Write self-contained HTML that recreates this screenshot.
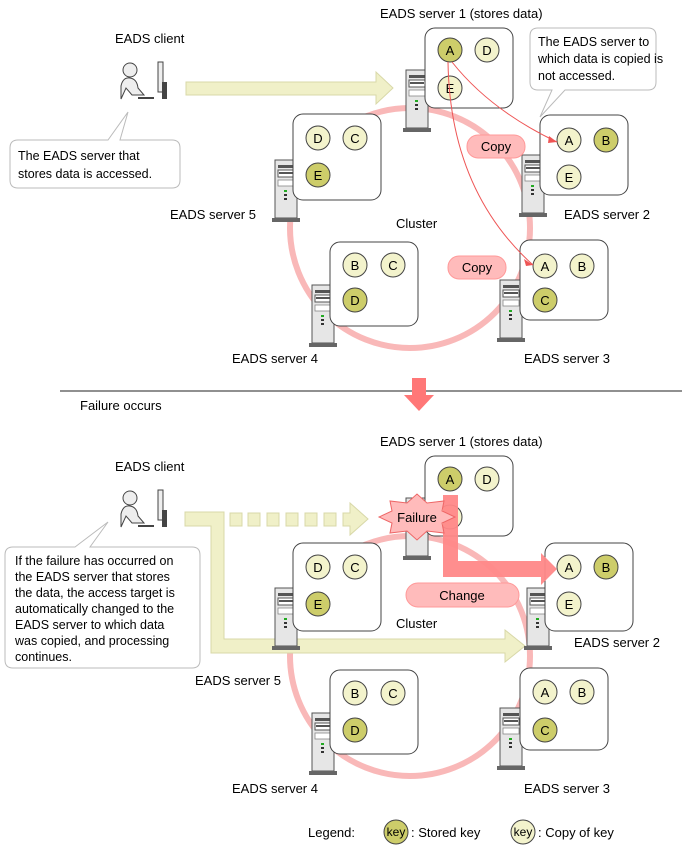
<!DOCTYPE html>
<html><head><meta charset="utf-8"><style>
html,body{margin:0;padding:0;background:#fff}
svg{display:block;font-family:"Liberation Sans",sans-serif}
</style></head><body>
<svg width="687" height="847" viewBox="0 0 687 847" xmlns="http://www.w3.org/2000/svg">
<defs>
<g id="tower">
 <rect x="0" y="0" width="22" height="58" fill="#e6e6e6" stroke="#555" stroke-width="1"/>
 <rect x="3" y="5" width="16" height="3" fill="#555"/>
 <rect x="3" y="10" width="16" height="7" fill="#fff" stroke="#555" stroke-width="1"/>
 <rect x="4" y="12" width="14" height="2" fill="#555"/>
 <rect x="3" y="20" width="16" height="6" fill="#fff" stroke="#888" stroke-width="0.8"/>
 <rect x="9" y="30" width="3" height="2" fill="#2a2"/>
 <rect x="9" y="34" width="3" height="2" fill="#333"/>
 <rect x="9" y="38" width="3" height="2" fill="#333"/>
 <rect x="-3" y="58" width="28" height="4" fill="#666"/>
</g>
<g id="client">
 <circle cx="12" cy="8" r="7" fill="#eee" stroke="#444"/>
 <path d="M3 37 L3 24 Q5 15 12 16 Q19 17 20 26 L26 33 L14 33 L8 26 Z" fill="#eee" stroke="#444"/>
 <rect x="40" y="0" width="5" height="30" fill="#eee" stroke="#444"/>
 <rect x="44" y="20" width="5" height="17" fill="#444"/>
 <rect x="20" y="35" width="16" height="2" fill="#444"/>
</g>
</defs>

<!-- ===== TOP ===== -->
<circle cx="410" cy="228" r="120" fill="none" stroke="#f9b8b8" stroke-width="6"/>
<text x="380" y="18" font-size="13">EADS server 1 (stores data)</text>
<text x="115" y="43" font-size="13">EADS client</text>
<use href="#client" x="118" y="62"/>
<polygon points="186,82 376,82 376,72 393,88 376,104 376,95 186,95" fill="#f0f0c8" stroke="#d8d8a8"/>

<path d="M18 140 L108 140 L128 112 L120 140 L172 140 Q180 140 180 148 L180 180 Q180 188 172 188 L18 188 Q10 188 10 180 L10 148 Q10 140 18 140 Z" fill="#fff" stroke="#bbb"/>
<text x="18" y="160" font-size="12.5">The EADS server that</text>
<text x="18" y="178" font-size="12.5">stores data is accessed.</text>

<path d="M538 28 L648 28 Q656 28 656 36 L656 82 Q656 90 648 90 L565 90 L540 117 L552 90 L538 90 Q530 90 530 82 L530 36 Q530 28 538 28 Z" fill="#fff" stroke="#bbb"/>
<text x="538" y="46" font-size="12.5">The EADS server to</text>
<text x="538" y="63" font-size="12.5">which data is copied is</text>
<text x="538" y="80" font-size="12.5">not accessed.</text>

<use href="#tower" x="406" y="70"/>
<rect x="425" y="28" width="88" height="80" rx="10" fill="#fff" stroke="#444"/>
<circle cx="450" cy="50" r="12" fill="#cdcd6a" stroke="#444"/><text x="450" y="55" font-size="13" text-anchor="middle">A</text>
<circle cx="487" cy="50" r="12" fill="#f3f3cc" stroke="#444"/><text x="487" y="55" font-size="13" text-anchor="middle">D</text>
<circle cx="450" cy="88" r="12" fill="#f3f3cc" stroke="#444"/><text x="450" y="93" font-size="13" text-anchor="middle">E</text>

<use href="#tower" x="522" y="155"/>
<rect x="540" y="115" width="88" height="80" rx="10" fill="#fff" stroke="#444"/>
<circle cx="569" cy="140" r="12" fill="#f3f3cc" stroke="#444"/><text x="569" y="145" font-size="13" text-anchor="middle">A</text>
<circle cx="606" cy="140" r="12" fill="#cdcd6a" stroke="#444"/><text x="606" y="145" font-size="13" text-anchor="middle">B</text>
<circle cx="569" cy="177" r="12" fill="#f3f3cc" stroke="#444"/><text x="569" y="182" font-size="13" text-anchor="middle">E</text>
<text x="564" y="219" font-size="13">EADS server 2</text>

<use href="#tower" x="500" y="280"/>
<rect x="520" y="240" width="88" height="80" rx="10" fill="#fff" stroke="#444"/>
<circle cx="545" cy="266" r="12" fill="#f3f3cc" stroke="#444"/><text x="545" y="271" font-size="13" text-anchor="middle">A</text>
<circle cx="582" cy="266" r="12" fill="#f3f3cc" stroke="#444"/><text x="582" y="271" font-size="13" text-anchor="middle">B</text>
<circle cx="545" cy="300" r="12" fill="#cdcd6a" stroke="#444"/><text x="545" y="305" font-size="13" text-anchor="middle">C</text>
<text x="524" y="363" font-size="13">EADS server 3</text>

<use href="#tower" x="312" y="285"/>
<rect x="330" y="242" width="88" height="84" rx="10" fill="#fff" stroke="#444"/>
<circle cx="355" cy="265" r="12" fill="#f3f3cc" stroke="#444"/><text x="355" y="270" font-size="13" text-anchor="middle">B</text>
<circle cx="393" cy="265" r="12" fill="#f3f3cc" stroke="#444"/><text x="393" y="270" font-size="13" text-anchor="middle">C</text>
<circle cx="355" cy="300" r="12" fill="#cdcd6a" stroke="#444"/><text x="355" y="305" font-size="13" text-anchor="middle">D</text>
<text x="232" y="363" font-size="13">EADS server 4</text>

<use href="#tower" x="275" y="160"/>
<rect x="293" y="114" width="88" height="86" rx="10" fill="#fff" stroke="#444"/>
<circle cx="318" cy="138" r="12" fill="#f3f3cc" stroke="#444"/><text x="318" y="143" font-size="13" text-anchor="middle">D</text>
<circle cx="355" cy="138" r="12" fill="#f3f3cc" stroke="#444"/><text x="355" y="143" font-size="13" text-anchor="middle">C</text>
<circle cx="318" cy="175" r="12" fill="#cdcd6a" stroke="#444"/><text x="318" y="180" font-size="13" text-anchor="middle">E</text>
<text x="170" y="219" font-size="13">EADS server 5</text>
<text x="396" y="228" font-size="13">Cluster</text>

<path d="M452 62 Q490 110 557 142" fill="none" stroke="#e55" stroke-width="1"/>
<polygon points="557,142 549,136 548,143" fill="#e55"/>
<path d="M448 62 Q450 190 533 265" fill="none" stroke="#e55" stroke-width="1"/>
<polygon points="533,265 524,259 526,266" fill="#e55"/>
<rect x="467" y="135" width="58" height="23" rx="11" fill="#fbb" stroke="#f99"/>
<text x="496" y="151" font-size="13" text-anchor="middle">Copy</text>
<rect x="448" y="256" width="58" height="23" rx="11" fill="#fbb" stroke="#f99"/>
<text x="477" y="272" font-size="13" text-anchor="middle">Copy</text>

<line x1="60" y1="391" x2="682" y2="391" stroke="#222" stroke-width="1"/>
<text x="80" y="410" font-size="13">Failure occurs</text>
<polygon points="412,378 426,378 426,395 434,395 419,411 404,395 412,395" fill="#f77"/>

<!-- ===== BOTTOM ===== -->
<circle cx="410" cy="656" r="120" fill="none" stroke="#f9b8b8" stroke-width="6"/>
<text x="380" y="446" font-size="13">EADS server 1 (stores data)</text>
<text x="115" y="471" font-size="13">EADS client</text>
<use href="#client" x="118" y="490"/>

<path d="M13 547 L75 547 L108 522 L90 547 L192 547 Q200 547 200 555 L200 660 Q200 668 192 668 L13 668 Q5 668 5 660 L5 555 Q5 547 13 547 Z" fill="#fff" stroke="#bbb"/>
<text font-size="12.5">
<tspan x="15" y="565">If the failure has occurred on</tspan>
<tspan x="15" y="581">the EADS server that stores</tspan>
<tspan x="15" y="597">the data, the access target is</tspan>
<tspan x="15" y="613">automatically changed to the</tspan>
<tspan x="15" y="629">EADS server to which data</tspan>
<tspan x="15" y="645">was copied, and processing</tspan>
<tspan x="15" y="661">continues.</tspan>
</text>

<polygon points="185,512 224,512 224,639 505,639 505,630 525,646 505,662 505,653 211,653 211,526 185,526" fill="#f0f0c8" stroke="#d8d8a8"/>
<g fill="#f0f0c8" stroke="#d8d8a8">
<rect x="230" y="513" width="12" height="13"/><rect x="248" y="513" width="12" height="13"/>
<rect x="267" y="513" width="12" height="13"/><rect x="286" y="513" width="12" height="13"/>
<rect x="305" y="513" width="12" height="13"/><rect x="324" y="513" width="12" height="13"/>
<polygon points="343,513 350,513 350,503 368,519 350,535 350,526 343,526"/>
</g>

<use href="#tower" x="406" y="498"/>
<rect x="425" y="456" width="88" height="80" rx="10" fill="#fff" stroke="#444"/>
<circle cx="450" cy="479" r="12" fill="#cdcd6a" stroke="#444"/><text x="450" y="484" font-size="13" text-anchor="middle">A</text>
<circle cx="487" cy="479" r="12" fill="#f3f3cc" stroke="#444"/><text x="487" y="484" font-size="13" text-anchor="middle">D</text>
<circle cx="450" cy="517" r="12" fill="#f3f3cc" stroke="#444"/>

<use href="#tower" x="527" y="588"/>
<rect x="545" y="543" width="88" height="88" rx="10" fill="#fff" stroke="#444"/>
<circle cx="569" cy="567" r="12" fill="#f3f3cc" stroke="#444"/><text x="569" y="572" font-size="13" text-anchor="middle">A</text>
<circle cx="606" cy="567" r="12" fill="#cdcd6a" stroke="#444"/><text x="606" y="572" font-size="13" text-anchor="middle">B</text>
<circle cx="569" cy="604" r="12" fill="#f3f3cc" stroke="#444"/><text x="569" y="609" font-size="13" text-anchor="middle">E</text>
<text x="574" y="647" font-size="13">EADS server 2</text>

<polygon points="443,495 458,495 458,561 541,561 541,553 557,569 541,585 541,577 443,577" fill="#f88" opacity="0.95"/>
<rect x="406" y="583" width="113" height="24" rx="12" fill="#fbb" stroke="#f99"/>
<text x="462" y="600" font-size="13" text-anchor="middle">Change</text>
<polygon points="455,517 442,523 444,533 427,531 417,540 407,531 390,533 392,523 379,517 392,511 390,501 407,503 417,494 427,503 444,501 442,511" fill="#fbb" stroke="#e66"/>
<text x="417" y="522" font-size="13" text-anchor="middle">Failure</text>
<text x="396" y="628" font-size="13">Cluster</text>

<use href="#tower" x="500" y="708"/>
<rect x="520" y="668" width="88" height="82" rx="10" fill="#fff" stroke="#444"/>
<circle cx="545" cy="692" r="12" fill="#f3f3cc" stroke="#444"/><text x="545" y="697" font-size="13" text-anchor="middle">A</text>
<circle cx="582" cy="692" r="12" fill="#f3f3cc" stroke="#444"/><text x="582" y="697" font-size="13" text-anchor="middle">B</text>
<circle cx="545" cy="730" r="12" fill="#cdcd6a" stroke="#444"/><text x="545" y="735" font-size="13" text-anchor="middle">C</text>
<text x="524" y="793" font-size="13">EADS server 3</text>

<use href="#tower" x="312" y="713"/>
<rect x="330" y="670" width="88" height="84" rx="10" fill="#fff" stroke="#444"/>
<circle cx="355" cy="693" r="12" fill="#f3f3cc" stroke="#444"/><text x="355" y="698" font-size="13" text-anchor="middle">B</text>
<circle cx="393" cy="693" r="12" fill="#f3f3cc" stroke="#444"/><text x="393" y="698" font-size="13" text-anchor="middle">C</text>
<circle cx="355" cy="730" r="12" fill="#cdcd6a" stroke="#444"/><text x="355" y="735" font-size="13" text-anchor="middle">D</text>
<text x="232" y="793" font-size="13">EADS server 4</text>

<use href="#tower" x="275" y="588"/>
<rect x="293" y="543" width="88" height="88" rx="10" fill="#fff" stroke="#444"/>
<circle cx="318" cy="567" r="12" fill="#f3f3cc" stroke="#444"/><text x="318" y="572" font-size="13" text-anchor="middle">D</text>
<circle cx="355" cy="567" r="12" fill="#f3f3cc" stroke="#444"/><text x="355" y="572" font-size="13" text-anchor="middle">C</text>
<circle cx="318" cy="604" r="12" fill="#cdcd6a" stroke="#444"/><text x="318" y="609" font-size="13" text-anchor="middle">E</text>
<text x="195" y="685" font-size="13">EADS server 5</text>

<text x="308" y="837" font-size="13">Legend:</text>
<circle cx="396" cy="832" r="12" fill="#cdcd6a" stroke="#444"/><text x="396" y="836" font-size="12" text-anchor="middle">key</text>
<text x="411" y="837" font-size="13">: Stored key</text>
<circle cx="523" cy="832" r="12" fill="#f3f3cc" stroke="#444"/><text x="523" y="836" font-size="12" text-anchor="middle">key</text>
<text x="538" y="837" font-size="13">: Copy of key</text>
</svg>
</body></html>
